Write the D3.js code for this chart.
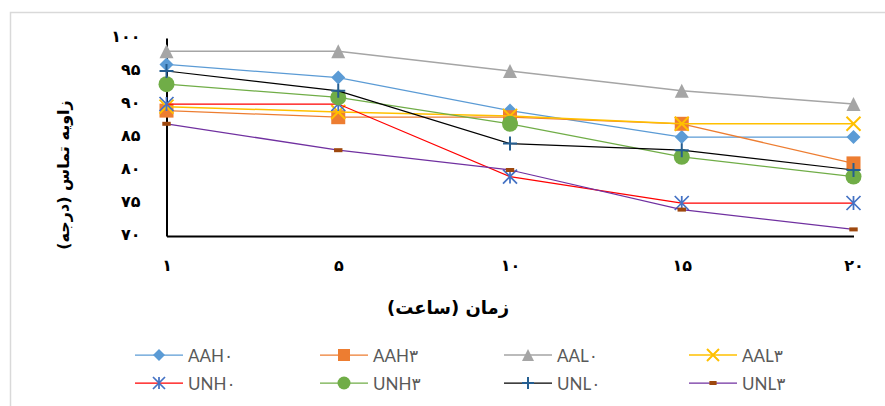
<!DOCTYPE html>
<html>
<head>
<meta charset="utf-8">
<script src="https://cdn.jsdelivr.net/npm/d3@7/dist/d3.min.js"></script>
<style>
  html, body { margin: 0; padding: 0; background: #fff; }
  svg { display: block; }
</style>
</head>
<body>
<svg id="chart" width="885" height="406"></svg>
<script>
// Hours (category axis) and their Persian labels
const hours = [1, 5, 10, 15, 20];
const hourLabels = ["۱", "۵", "۱۰", "۱۵", "۲۰"];

// Contact-angle axis ticks (degrees)
const angleTicks = [70, 75, 80, 85, 90, 95, 100];
const angleTickLabels = ["۷۰", "۷۵", "۸۰", "۸۵", "۹۰", "۹۵", "۱۰۰"];

// Contact angle (degrees) of each sample over time
const AAH0 = [96, 94, 89, 85, 85];
const AAH3 = [89, 88, 88, 87, 81];
const AAL0 = [98, 98, 95, 92, 90];
const AAL3 = [89.6, 88.8, 88.2, 87, 87];
const UNH0 = [90, 90, 79, 75, 75];
const UNH3 = [93, 91, 87, 82, 79];
const UNL0 = [95, 92, 84, 83, 80];
const UNL3 = [87, 83, 80, 74, 71];

const seriesNames = ["AAH۰", "AAH۳", "AAL۰", "AAL۳", "UNH۰", "UNH۳", "UNL۰", "UNL۳"];
const seriesValues = [AAH0, AAH3, AAL0, AAL3, UNH0, UNH3, UNL0, UNL3];

// Line colour, marker kind and marker colour per sample
const styles = [
  { line: "#5b9bd5", marker: "diamond",  color: "#5b9bd5", width: 1.25 },
  { line: "#ed7d31", marker: "square",   color: "#ed7d31", width: 1.25 },
  { line: "#a5a5a5", marker: "triangle", color: "#a5a5a5", width: 1.5 },
  { line: "#ffc000", marker: "x",        color: "#ffc000", width: 1.5 },
  { line: "#ff0000", marker: "star",     color: "#4472c4", width: 1.25 },
  { line: "#70ad47", marker: "circle",   color: "#70ad47", width: 1.25 },
  { line: "#000000", marker: "plus",     color: "#255e91", width: 1.25 },
  { line: "#7030a0", marker: "dash",     color: "#9e480e", width: 1.25 }
];

const svg = d3.select("#chart");

// Chart-area outline
svg.append("rect")
  .attr("x", 10.5).attr("y", 12.5)
  .attr("width", 900).attr("height", 420)
  .attr("fill", "#fff").attr("stroke", "#d9d9d9").attr("stroke-width", 1.5);

const plot = { left: 166.5, right: 853.5, top: 38, bottom: 236 };

const x = d3.scalePoint().domain(hours).range([plot.left, plot.right]);
const y = d3.scaleLinear().domain([70, 100]).range([plot.bottom, plot.top]);

const digitFont = "'DejaVu Sans', sans-serif";

// Y axis
const yAxis = d3.axisLeft(y)
  .tickValues(angleTicks)
  .tickSize(0)
  .tickPadding(26)
  .tickFormat((d, i) => angleTickLabels[i]);
const gy = svg.append("g").attr("transform", `translate(${plot.left},0)`).call(yAxis);
gy.select(".domain").attr("stroke", "#000").attr("stroke-width", 2);
gy.selectAll("text")
  .attr("font-family", digitFont).attr("font-weight", "bold")
  .attr("font-size", 16).attr("fill", "#000")
  .attr("dy", "0.2em");

// X axis
const xAxis = d3.axisBottom(x)
  .tickSize(0)
  .tickPadding(24)
  .tickFormat((d, i) => hourLabels[i]);
const gx = svg.append("g").attr("transform", `translate(0,${plot.bottom})`).call(xAxis);
gx.select(".domain").attr("stroke", "#000").attr("stroke-width", 2);
gx.selectAll("text")
  .attr("font-family", digitFont).attr("font-weight", "bold")
  .attr("font-size", 16).attr("fill", "#000");

// Axis titles
svg.append("text")
  .attr("transform", "translate(63,175) rotate(-90)")
  .attr("text-anchor", "middle").attr("dominant-baseline", "central")
  .attr("direction", "rtl")
  .attr("font-family", digitFont).attr("font-weight", "bold").attr("font-size", 16)
  .text("زاویه تماس (درجه)");

svg.append("text")
  .attr("x", 448).attr("y", 307)
  .attr("text-anchor", "middle").attr("dominant-baseline", "central")
  .attr("direction", "rtl")
  .attr("font-family", digitFont).attr("font-weight", "bold").attr("font-size", 18)
  .text("زمان (ساعت)");

// Marker drawing
function drawMarker(g, kind, color, s) {
  const h = s / 2;
  switch (kind) {
    case "diamond":
      g.append("path").attr("d", `M0,${-h}L${h},0L0,${h}L${-h},0Z`).attr("fill", color);
      break;
    case "square":
      g.append("rect").attr("x", -h).attr("y", -h).attr("width", s).attr("height", s).attr("fill", color);
      break;
    case "triangle":
      g.append("path").attr("d", `M0,${-h}L${h},${h}L${-h},${h}Z`).attr("fill", color);
      break;
    case "circle":
      g.append("circle").attr("r", h).attr("fill", color);
      break;
    case "x":
      g.append("path").attr("d", `M${-h},${-h}L${h},${h}M${-h},${h}L${h},${-h}`)
        .attr("stroke", color).attr("stroke-width", 2).attr("fill", "none");
      break;
    case "star":
      g.append("path").attr("d", `M${-h},${-h}L${h},${h}M${-h},${h}L${h},${-h}M0,${-h}L0,${h}`)
        .attr("stroke", color).attr("stroke-width", 1.75).attr("fill", "none");
      break;
    case "plus":
      g.append("path").attr("d", `M${-h},0L${h},0M0,${-h}L0,${h}`)
        .attr("stroke", color).attr("stroke-width", 2).attr("fill", "none");
      break;
    case "dash":
      g.append("rect").attr("x", -s * 0.3).attr("y", -2).attr("width", s * 0.6).attr("height", 4).attr("fill", color);
      break;
  }
}

const line = d3.line().x((d, i) => x(hours[i])).y(d => y(d));

// Series: line then markers, in order
seriesValues.forEach((vals, k) => {
  const st = styles[k];
  const g = svg.append("g");
  g.append("path").datum(vals)
    .attr("d", line)
    .attr("fill", "none").attr("stroke", st.line).attr("stroke-width", st.width);
  vals.forEach((v, i) => {
    const m = g.append("g").attr("transform", `translate(${x(hours[i])},${y(v)})`);
    drawMarker(m, st.marker, st.color, st.marker === "circle" ? 16 : 14);
  });
});

// Legend: 4 columns × 2 rows
const legendCols = [135, 320, 504, 689];
const legendRows = [355, 383];
seriesNames.forEach((name, k) => {
  const st = styles[k];
  const lx = legendCols[k % 4];
  const ly = legendRows[Math.floor(k / 4)];
  const g = svg.append("g").attr("transform", `translate(${lx},${ly})`);
  g.append("line").attr("x1", 0).attr("x2", 48).attr("y1", 0).attr("y2", 0)
    .attr("stroke", st.line).attr("stroke-width", st.width);
  const m = g.append("g").attr("transform", "translate(24,0)");
  drawMarker(m, st.marker, st.color, st.marker === "circle" ? 13 : 12);
  g.append("text")
    .attr("x", 53).attr("y", 0)
    .attr("dominant-baseline", "central")
    .attr("font-family", "Lato, 'DejaVu Sans', sans-serif")
    .attr("font-size", 17).attr("fill", "#595959")
    .text(name);
});
</script>
</body>
</html>
